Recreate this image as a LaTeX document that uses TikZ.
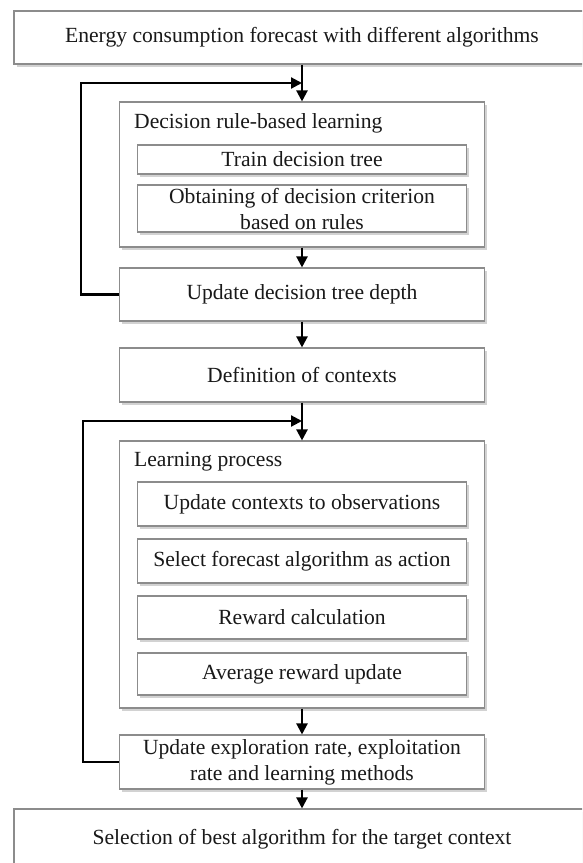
\documentclass[tikz,border=0pt]{standalone}
\usepackage{fontspec}
\setmainfont{Liberation Serif}
\usetikzlibrary{arrows.meta,shadows}

\begin{document}
\begin{tikzpicture}[x=1pt,y=-1pt,
    box/.style={rectangle,draw=black!45,line width=1.1pt,fill=white,
      drop shadow={shadow xshift=2.5pt,shadow yshift=-3pt,fill=black!35},
      minimum width=365pt,inner sep=0pt,align=center,text=black!90,
      font=\fontsize{21.6}{26}\selectfont},
    inbox/.style={box,minimum width=329pt},
    widebox/.style={box,minimum width=576pt},
    blocktitle/.style={anchor=west,inner sep=0pt,text=black!90,
      font=\fontsize{21.6}{26}\selectfont},
    flow/.style={-{Triangle[width=11pt,length=11pt]},line width=2.2pt,black}]
    \clip (0,0) rectangle (582,863);

    % start
    \node[widebox,minimum height=53pt] (forecast) at (302,37.5) {Energy consumption forecast with different algorithms};

    % decision rules
    \node[box,minimum height=145pt] (rules) at (302,174.5) {};
    \node[blocktitle] (rulestitle) at (134,123) {Decision rule-based learning};
    \node[inbox,minimum height=29pt] (train) at (302,159.5) {Train decision tree};
    \node[inbox,minimum height=47pt] (crit) at (302,208.5) {Obtaining of decision criterion\\based on rules};
    \node[box,minimum height=53pt] (depth) at (302,294.5) {Update decision tree depth};

    \node[box,minimum height=54pt] (contexts) at (302,375) {Definition of contexts};

    % learning
    \node[box,minimum height=267pt] (learning) at (302,574.5) {};
    \node[blocktitle] (learntitle) at (134,462) {Learning process};
    \node[inbox,minimum height=44pt] (observe) at (302,504) {Update contexts to observations};
    \node[inbox,minimum height=44pt] (action) at (302,561) {Select forecast algorithm as action};
    \node[inbox,minimum height=43pt] (reward) at (302,617.5) {Reward calculation};
    \node[inbox,minimum height=42pt] (average) at (302,674) {Average reward update};
    \node[box,minimum height=54pt] (rates) at (302,762) {Update exploration rate, exploitation\\rate and learning methods};

    % result
    \node[widebox,minimum height=60pt] (best) at (302,839) {Selection of best algorithm for the target context};

    % main flow
    \draw[flow] (forecast) -- (rules);
    \draw[flow] (rules) -- (depth);
    \draw[flow] (depth) -- (contexts);
    \draw[flow] (contexts) -- (learning);
    \draw[flow] (learning) -- (rates);
    \draw[flow] (rates) -- (best);

    % loops back
    \coordinate (rulesin) at (302,83);
    \draw[flow] (depth.west) -- ++(-38,0) |- (rulesin);
    \coordinate (learnin) at (302,421);
    \draw[flow] (rates.west) -- ++(-36,0) |- (learnin);
\end{tikzpicture}
\end{document}
